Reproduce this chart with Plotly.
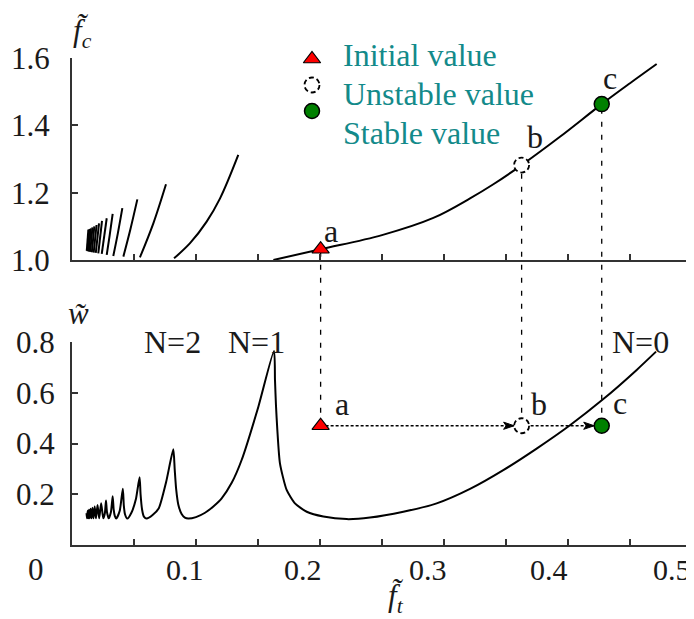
import plotly.graph_objects as go

# ---------------- data ----------------
# top panel: f_c versus f_t, one branch per N (N = 0, 1, 2, ...)
top_n0_ft = [0.1624, 0.2005, 0.2500, 0.2914, 0.3210, 0.3398, 0.3626, 0.3935, 0.4272, 0.4500, 0.4715]
top_n0_fc = [1.000, 1.032, 1.074, 1.125, 1.183, 1.225, 1.282, 1.366, 1.463, 1.525, 1.582]

top_branch_ft = [
    [0.0823, 0.0952, 0.1086, 0.1194, 0.1341],   # N=1
    [0.0548, 0.0656, 0.0758],                   # N=2
    [0.0414, 0.0470, 0.0527],                   # N=3
    [0.0333, 0.0370, 0.0406],                   # N=4
    [0.0280, 0.0304, 0.0328],                   # N=5
    [0.0240, 0.0280],
    [0.0212, 0.0242],
    [0.0192, 0.0218],
    [0.0175, 0.0198],
    [0.0160, 0.0180],
    [0.0147, 0.0165],
    [0.0136, 0.0152],
    [0.0127, 0.0141],
    [0.0119, 0.0132],
]
top_branch_fc = [
    [1.005, 1.050, 1.114, 1.183, 1.312],
    [1.008, 1.109, 1.225],
    [1.010, 1.090, 1.180],
    [1.012, 1.080, 1.154],
    [1.015, 1.074, 1.137],
    [1.018, 1.124],
    [1.020, 1.116],
    [1.021, 1.109],
    [1.022, 1.104],
    [1.023, 1.100],
    [1.024, 1.097],
    [1.025, 1.094],
    [1.026, 1.092],
    [1.027, 1.090],
]

# bottom panel: w versus f_t
bottom_ft = [0.0117, 0.0121, 0.0127, 0.0132, 0.0137, 0.0143, 0.0150, 0.0157, 0.0165, 0.0173,
             0.0183, 0.0193, 0.0206, 0.0219, 0.0235, 0.0252, 0.0265, 0.0274, 0.0282, 0.0296,
             0.0314, 0.0328, 0.0336, 0.0345, 0.0357, 0.0385, 0.0410, 0.0418, 0.0428, 0.0446,
             0.0480, 0.0515, 0.0545, 0.0553, 0.0565, 0.0580, 0.0602, 0.0650, 0.0700, 0.0760,
             0.0817, 0.0828, 0.0840, 0.0857, 0.0884, 0.0910, 0.0938, 0.1000, 0.1073, 0.1140,
             0.1207, 0.1288, 0.1368, 0.1503, 0.1629, 0.1637, 0.1645, 0.1656, 0.1677, 0.1731,
             0.1798, 0.1893, 0.2027, 0.2215, 0.2403, 0.2672, 0.2941, 0.3210, 0.3478, 0.3747,
             0.4016, 0.4285, 0.4554, 0.4710]
bottom_w = [0.125, 0.105, 0.135, 0.105, 0.139, 0.105, 0.143, 0.105, 0.147, 0.105,
            0.152, 0.105, 0.158, 0.105, 0.165, 0.105, 0.125, 0.175, 0.130, 0.105,
            0.130, 0.192, 0.140, 0.115, 0.104, 0.135, 0.222, 0.155, 0.120, 0.104,
            0.128, 0.180, 0.267, 0.200, 0.140, 0.112, 0.104, 0.118, 0.145, 0.250,
            0.377, 0.300, 0.220, 0.160, 0.122, 0.108, 0.104, 0.110, 0.127, 0.152,
            0.184, 0.245, 0.335, 0.545, 0.765, 0.650, 0.550, 0.453, 0.322, 0.217,
            0.164, 0.131, 0.112, 0.102, 0.108, 0.131, 0.164, 0.221, 0.295, 0.380,
            0.472, 0.575, 0.690, 0.762]

# points a (initial), b (unstable), c (stable)
point_names = ["a", "b", "c"]
point_ft = [0.2005, 0.3626, 0.4272]
point_fc = [1.032, 1.282, 1.463]
point_w = [0.470, 0.470, 0.470]

legend_texts = ["Initial value", "Unstable value", "Stable value"]
branch_labels = ["N=2", "N=1", "N=0"]

x_major_ticks = [0.1, 0.2, 0.3, 0.4, 0.5]
x_major_text = ["0.1", "0.2", "0.3", "0.4", "0.5"]
x_minor_ticks = [0.05, 0.15, 0.25, 0.35, 0.45]
top_y_ticks = [1.0, 1.2, 1.4, 1.6]
top_y_text = ["1.0", "1.2", "1.4", "1.6"]
bot_y_ticks = [0.2, 0.4, 0.6, 0.8]
bot_y_text = ["0.2", "0.4", "0.6", "0.8"]

# ---------------- layout constants ----------------
OFF = 8                     # page body margin of the html page
W, H = 694 - OFF, 619 - OFF
ML, MR, MT, MB = 72 - OFF, 2, 58 - OFF, 74
PW, PH = W - ML - MR, H - MT - MB
TOP_AXIS_PX = 260           # window row of the top panel's x axis
BOT_TOP_PX = 342            # window row of the bottom panel's top (w=0.8)
TOP_DOM = [(H - MB - (TOP_AXIS_PX - OFF)) / PH, 1.0]
BOT_DOM = [0.0, (H - MB - (BOT_TOP_PX - OFF)) / PH]
X_RANGE = [0, 0.5]
TOP_RANGE = [1.0, 1.6]
BOT_RANGE = [0.0, 0.8]
X_LABEL_SHIFT = [-11, -17, -16, -19, -20.5]   # label offsets (px) from their ticks, as drawn
X_LABEL_PY = 569

FONT = "Liberation Serif"
TEAL = "#138a8a"
TXT = "#1a1a1a"
AX = "#333333"


def pp(px, py):
    """window pixel -> paper coordinates"""
    return (px - OFF - ML) / PW, (H - MB - (py - OFF)) / PH


def top_paper(v):
    return TOP_DOM[0] + (v - TOP_RANGE[0]) / (TOP_RANGE[1] - TOP_RANGE[0]) * (TOP_DOM[1] - TOP_DOM[0])


def bot_paper(v):
    return BOT_DOM[0] + (v - BOT_RANGE[0]) / (BOT_RANGE[1] - BOT_RANGE[0]) * (BOT_DOM[1] - BOT_DOM[0])


fig = go.Figure()
line_style = dict(color="black", width=2)

# top branches
fig.add_trace(go.Scatter(x=top_n0_ft, y=top_n0_fc, mode="lines",
                         line=dict(line_style, shape="spline"), xaxis="x", yaxis="y",
                         showlegend=False, hoverinfo="skip"))
for bx, bf in zip(top_branch_ft, top_branch_fc):
    fig.add_trace(go.Scatter(x=bx, y=bf, mode="lines",
                             line=dict(line_style, shape="spline"), xaxis="x", yaxis="y",
                             showlegend=False, hoverinfo="skip"))

# bottom curve
fig.add_trace(go.Scatter(x=bottom_ft, y=bottom_w, mode="lines",
                         line=dict(line_style, shape="spline", smoothing=0.6), xaxis="x2", yaxis="y2",
                         showlegend=False, hoverinfo="skip"))

# dotted path a -> b -> c
fig.add_trace(go.Scatter(x=point_ft, y=point_w, mode="lines",
                         line=dict(color="black", width=1.3, dash="3px,2px"),
                         xaxis="x2", yaxis="y2", showlegend=False, hoverinfo="skip"))

shapes = []
annotations = []

# vertical dashed connectors (through both panels)
for ft, fc, w in zip(point_ft, point_fc, point_w):
    shapes.append(dict(type="line", xref="x", yref="paper", x0=ft, x1=ft,
                       y0=bot_paper(w), y1=top_paper(fc), layer="below",
                       line=dict(color="black", width=1.3, dash="5px,8px")))

tri_marker = dict(symbol="triangle-up", size=15, color="#ff0000", line=dict(color="black", width=1.2))
green_marker = dict(symbol="circle", size=15, color="#008000", line=dict(color="black", width=1.5))

# initial value markers (a) and stable markers (c)
for xa, ya, yv, mk, idx in [("x", "y", point_fc, tri_marker, 0), ("x2", "y2", point_w, tri_marker, 0),
                            ("x", "y", point_fc, green_marker, 2), ("x2", "y2", point_w, green_marker, 2)]:
    fig.add_trace(go.Scatter(x=[point_ft[idx]], y=[yv[idx]], mode="markers", xaxis=xa, yaxis=ya,
                             marker=mk, showlegend=False, hoverinfo="skip", cliponaxis=False))


def open_circle(xref, yref, xa, ya):
    return dict(type="circle", xref=xref, yref=yref, xsizemode="pixel", ysizemode="pixel",
                xanchor=xa, yanchor=ya, x0=-7.5, x1=7.5, y0=-7.5, y1=7.5,
                fillcolor="white", line=dict(color="black", width=1.8, dash="5px,3px"))


# unstable markers (b)
shapes.append(open_circle("x", "y", point_ft[1], point_fc[1]))
shapes.append(open_circle("x2", "y2", point_ft[1], point_w[1]))

# arrow heads on the dotted path (stealth heads ending at the marker edge)
for ft, w in zip(point_ft[1:], point_w[1:]):
    shapes.append(dict(type="path", xref="x2", yref="y2", xsizemode="pixel", ysizemode="pixel",
                       xanchor=ft, yanchor=w, path="M-7.5,0 L-18,3.6 L-15.5,0 L-18,-3.6 Z",
                       fillcolor="black", line=dict(color="black", width=1)))

# legend (manual)
LEG_MARK_PX = 312
LEG_MARK_PY = [59, 85, 111]
LEG_TEXT_PX = 341
LEG_TEXT_PY = [55, 94, 133]
lx, ly0 = pp(LEG_MARK_PX, LEG_MARK_PY[0])
_, ly1 = pp(LEG_MARK_PX, LEG_MARK_PY[1])
_, ly2 = pp(LEG_MARK_PX, LEG_MARK_PY[2])
fig.add_trace(go.Scatter(x=[lx], y=[ly0], mode="markers", xaxis="x3", yaxis="y3",
                         marker=tri_marker, showlegend=False, hoverinfo="skip", cliponaxis=False))
fig.add_trace(go.Scatter(x=[lx], y=[ly2], mode="markers", xaxis="x3", yaxis="y3",
                         marker=green_marker, showlegend=False, hoverinfo="skip", cliponaxis=False))
shapes.append(open_circle("paper", "paper", lx, ly1))
for t, py in zip(legend_texts, LEG_TEXT_PY):
    x, y = pp(LEG_TEXT_PX, py)
    annotations.append(dict(x=x, y=y, xref="paper", yref="paper", text=t, showarrow=False,
                            xanchor="left", yanchor="middle",
                            font=dict(family=FONT, size=32, color=TEAL)))

# point letters
letter_px_top = [(331, 231), (535, 137), (610, 78)]
letter_px_bot = [(342, 404), (539, 404), (620, 403)]
for name, (a, b) in list(zip(point_names, letter_px_top)) + list(zip(point_names, letter_px_bot)):
    x, y = pp(a, b)
    annotations.append(dict(x=x, y=y, xref="paper", yref="paper", text=name, showarrow=False,
                            xanchor="center", yanchor="middle", font=dict(family=FONT, size=32, color=TXT)))

# branch labels
for t, (a, b) in zip(branch_labels, [(172, 342), (256, 342), (640, 342)]):
    x, y = pp(a, b)
    annotations.append(dict(x=x, y=y, xref="paper", yref="paper", text=t, showarrow=False,
                            xanchor="center", yanchor="middle", font=dict(family=FONT, size=32, color=TXT)))

# bottom x tick labels (placed at their tick values, offset as in the reference)
_, ylab = pp(0, X_LABEL_PY)
for v, t, s in zip(x_major_ticks, x_major_text, X_LABEL_SHIFT):
    annotations.append(dict(x=v, y=ylab, xref="x2", yref="paper", text=t, showarrow=False,
                            xanchor="center", yanchor="middle", xshift=s,
                            font=dict(family=FONT, size=30, color=TXT)))

# axis titles and origin label
for t, (a, b) in [("<i>f\u0303</i><sub><i>c</i></sub>", (82, 33)),
                  ("<i>w\u0303</i>", (78, 313)),
                  ("<i>f\u0303</i><sub><i>t</i></sub>", (396, 598)),
                  ("0", (36, 569))]:
    x, y = pp(a, b)
    annotations.append(dict(x=x, y=y, xref="paper", yref="paper", text=t, showarrow=False,
                            xanchor="center", yanchor="middle", font=dict(family=FONT, size=31, color=TXT)))

axis_common = dict(showline=True, linecolor=AX, linewidth=2, ticks="inside", ticklen=6,
                   tickwidth=1.5, tickcolor=AX, showgrid=False, zeroline=False,
                   tickfont=dict(family=FONT, size=31, color=TXT), automargin=False, fixedrange=True)
minor_x = dict(tickvals=x_minor_ticks, ticks="inside", ticklen=6, tickwidth=1.5, tickcolor=AX, showgrid=False)

fig.update_layout(
    width=W, height=H,
    margin=dict(l=ML, r=MR, t=MT, b=MB, pad=0),
    paper_bgcolor="white", plot_bgcolor="rgba(0,0,0,0)",
    showlegend=False,
    xaxis=dict(axis_common, domain=[0, 1], range=X_RANGE, anchor="y",
               tickvals=x_major_ticks, showticklabels=False, minor=minor_x),
    yaxis=dict(axis_common, domain=TOP_DOM, range=TOP_RANGE, anchor="x",
               tickvals=top_y_ticks, ticktext=top_y_text, ticklabelstandoff=14),
    xaxis2=dict(axis_common, domain=[0, 1], range=X_RANGE, anchor="y2",
                tickvals=x_major_ticks, showticklabels=False, minor=minor_x),
    yaxis2=dict(axis_common, domain=BOT_DOM, range=BOT_RANGE, anchor="x2",
                tickvals=bot_y_ticks, ticktext=bot_y_text, ticklabelstandoff=9),
    xaxis3=dict(domain=[0, 1], range=[0, 1], visible=False, anchor="y3", fixedrange=True),
    yaxis3=dict(domain=[0, 1], range=[0, 1], visible=False, anchor="x3", fixedrange=True),
    shapes=shapes,
    annotations=annotations,
)

fig.write_html("out.html")
